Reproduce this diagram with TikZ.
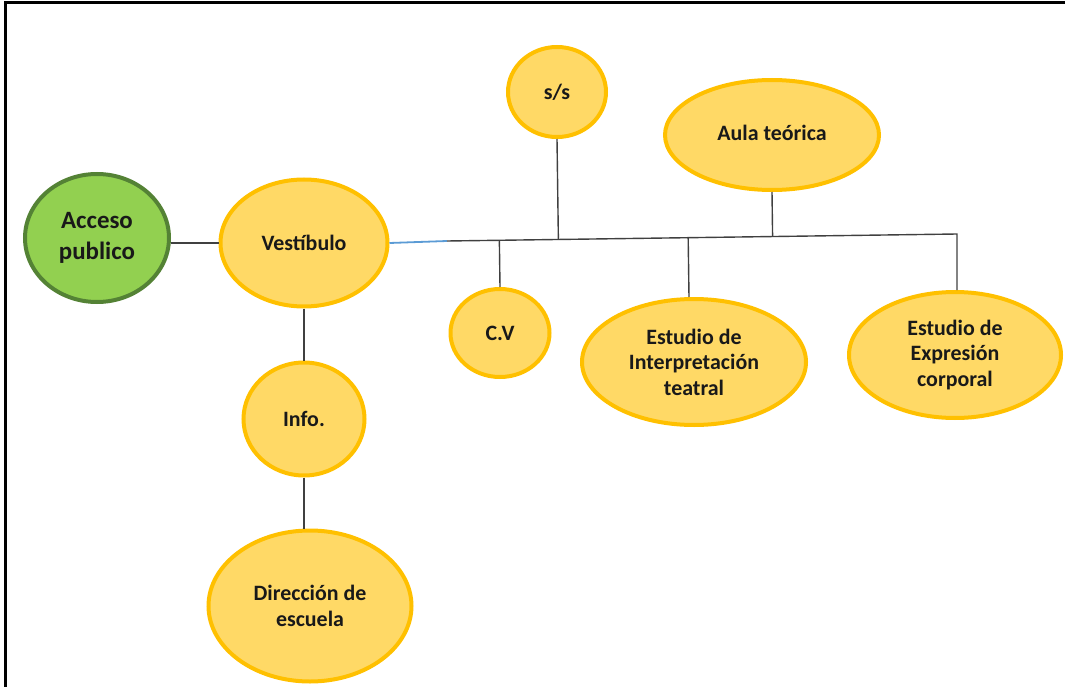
\documentclass[tikz,border=0pt]{standalone}
\usepackage{fontspec}
\setmainfont{Carlito}
\usetikzlibrary{shapes.geometric,calc}
\definecolor{yfill}{HTML}{FFD966}
\definecolor{ydraw}{HTML}{FFC000}
\definecolor{gfill}{HTML}{92D050}
\definecolor{gdraw}{HTML}{548235}
\definecolor{conn}{HTML}{404040}
\definecolor{blueconn}{HTML}{5B9BD5}
\tikzset{
  room/.style={ellipse, fill=yfill, draw=ydraw, line width=4bp, inner sep=0pt, align=center,
    font=\bfseries\fontsize{22}{25.5}\selectfont, text=black!90},
  access/.style={ellipse, fill=gfill, draw=gdraw, line width=4bp, inner sep=0pt, align=center,
    font=\bfseries\fontsize{25}{31}\selectfont, text=black!90},
  link/.style={draw=conn, line width=1.4bp},
  bluelink/.style={draw=blueconn, line width=1.8bp},
  frame/.style={draw=black, line width=3bp}
}
\begin{document}
\begin{tikzpicture}[x=1bp,y=-1bp]
\useasboundingbox (0,0) rectangle (1065,687);
% frame
\coordinate (f1) at (1065,3);
\coordinate (f2) at (5,3);
\coordinate (f3) at (5,687);
\draw[frame] (f1) -- (f2) -- (f3);

% nodes
\node[access, minimum width=144bp, minimum height=128bp] (acc) at (97,238) {Acceso\\publico};
\node[room, minimum width=167bp, minimum height=127bp] (ves) at (304,243) {Vestíbulo};
\node[room, minimum width=98bp, minimum height=90bp] (ss) at (557,92) {s/s};
\node[room, minimum width=214bp, minimum height=110bp] (aula) at (772,135) {\raisebox{5bp}{Aula teórica}};
\node[room, minimum width=99bp, minimum height=88bp] (cv) at (500,333) {C.V};
\node[room, minimum width=224bp, minimum height=126bp] (interp) at (694,362) {Estudio de\\Interpretación\\teatral};
\node[room, minimum width=212bp, minimum height=126bp] (expr) at (955,355) {Estudio de\\Expresión\\corporal};
\node[room, minimum width=121bp, minimum height=113bp] (info) at (304,419) {Info.};
\node[room, minimum width=203bp, minimum height=151bp] (dir) at (310,606) {Dirección de\\escuela};

% bus
\coordinate (bmid) at (447,241);
\coordinate (busR) at (957,234);
\coordinate (jcv) at ($(bmid)!(cv.north)!(busR)$);
\coordinate (jint) at ($(bmid)!(689,297)!(busR)$);
\coordinate (jss) at ($(bmid)!(ss.south)!(busR)$);
\coordinate (jaula) at ($(bmid)!(aula.south)!(busR)$);
\coordinate (intTop) at (689,297);

% connectors
\draw[link] (acc.east |- ves.west) -- (ves.west);
\draw[bluelink] (ves.east) -- (bmid);
\draw[link] (bmid) -- (busR) -- (expr.north -| busR);
\draw[link] (ss.south) -- (jss);
\draw[link] (aula.south) -- (jaula);
\draw[link] (jcv) -- (cv.north);
\draw[link] (jint) -- (intTop);
\draw[link] (ves.south) -- (info.north);
\draw[link] (info.south) -- (info.south |- dir.north);
\end{tikzpicture}
\end{document}
